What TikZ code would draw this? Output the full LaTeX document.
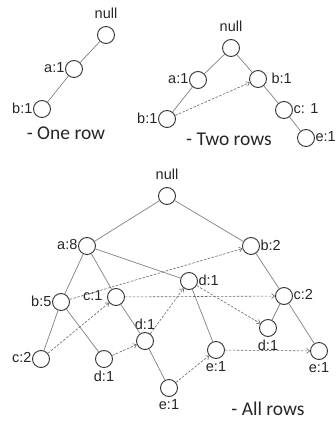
\documentclass[tikz,border=0pt]{standalone}
\usepackage{fontspec}
\setmainfont{Liberation Sans}
\newfontfamily\capfont{Carlito}
\usetikzlibrary{arrows.meta}
\begin{document}
\begin{tikzpicture}[x=1pt,y=-1pt,
 nd/.style={circle,draw=black!80,line width=0.9pt,minimum size=17pt,inner sep=0pt,fill=white},
 lbl/.style={font=\fontsize{14.5}{16}\selectfont,inner sep=0.5pt,text=black!85},
 lleft/.style={lbl,anchor=east,yshift=1pt},
 lright/.style={lbl,anchor=west,yshift=1pt},
 lbelow/.style={lbl,anchor=north,yshift=-2pt},
 labove/.style={lbl,anchor=south,yshift=2pt},
 ltop/.style={lbl,anchor=base,yshift=8pt},
 captext/.style={font=\capfont\fontsize{19.5}{22}\selectfont,text=black!85,inner sep=0pt},
 edge/.style={draw=black!50,line width=0.7pt},
 arr/.style={draw=black!60,dash pattern=on 2.5pt off 1.5pt,line width=0.6pt,-{Straight Barb[length=3pt,width=5pt]}}]
\useasboundingbox (0,0) rectangle (336,422);

% ---------- one row ----------
\node[nd] (n1) at (106,35) {};
\node[nd] (a1) at (74,69) {};
\node[nd] (b1) at (42,109) {};
\node[ltop] (ln1) at (n1.north) {null};
\node[lleft] (la1) at (a1.west) {a:1};
\node[lleft] (lb1) at (b1.west) {b:1};
\draw[edge] (n1) -- (a1);
\draw[edge] (a1) -- (b1);
\node[captext] (c1cap) at (66,133) {- One row};

% ---------- two rows ----------
\node[nd] (n2) at (231,48) {};
\node[nd] (a2) at (198,80) {};
\node[nd] (b2r) at (258,79) {};
\node[nd] (b2l) at (167,119) {};
\node[nd] (c2) at (284,110) {};
\node[nd] (e2) at (306,138) {};
\node[ltop] (ln2) at (n2.north) {null};
\node[lleft] (la2) at (a2.west) {a:1};
\node[lright,xshift=4pt] (lb2r) at (b2r.east) {b:1};
\node[lleft] (lb2l) at (b2l.west) {b:1};
\node[lright] (lc2) at (c2.east) {c: 1};
\node[lright] (le2) at (e2.east) {e:1};
\draw[edge] (n2) -- (a2);
\draw[edge] (n2) -- (b2r);
\draw[edge] (a2) -- (b2l);
\draw[edge] (b2r) -- (c2);
\draw[edge] (c2) -- (e2);
\draw[arr] (b2l) -- (b2r);
\node[captext] (c2cap) at (229,139) {- Two rows};

% ---------- all rows ----------
\node[nd] (n3) at (167,196) {};
\node[nd] (a8) at (87,246) {};
\node[nd] (b2) at (251,246) {};
\node[nd] (b5) at (61,302) {};
\node[nd] (c1) at (116,297) {};
\node[nd] (c2l) at (41,359) {};
\node[nd] (d1a) at (104,359) {};
\node[nd] (d1b) at (145,341) {};
\node[nd] (d1c) at (189,281) {};
\node[nd] (c2r) at (284,296) {};
\node[nd] (d1d) at (268,328) {};
\node[nd] (e1r) at (319,351) {};
\node[nd] (e1m) at (216,350) {};
\node[nd] (e1b) at (169,388) {};

\node[ltop] (ln3) at (n3.north) {null};
\node[lleft] (la8) at (a8.west) {a:8};
\node[lright] (lb2) at (b2.east) {b:2};
\node[lleft] (lb5) at (b5.west) {b:5};
\node[lleft,xshift=-4pt] (lc1) at (c1.west) {c:1};
\node[lleft] (lc2l) at (c2l.west) {c:2};
\node[lbelow] (ld1a) at (d1a.south) {d:1};
\node[labove] (ld1b) at (d1b.north) {d:1};
\node[lright] (ld1c) at (d1c.east) {d:1};
\node[lright] (lc2r) at (c2r.east) {c:2};
\node[lbelow] (ld1d) at (d1d.south) {d:1};
\node[lbelow] (le1r) at (e1r.south) {e:1};
\node[lbelow] (le1m) at (e1m.south) {e:1};
\node[lbelow] (le1b) at (e1b.south) {e:1};

\draw[edge] (n3) -- (a8);
\draw[edge] (n3) -- (b2);
\draw[edge] (a8) -- (b5);
\draw[edge] (a8) -- (c1);
\draw[edge] (a8) -- (d1c);
\draw[edge] (b5) -- (c2l);
\draw[edge] (b5) -- (d1a);
\draw[edge] (c1) -- (d1b);
\draw[edge] (d1b) -- (e1b);
\draw[edge] (d1c) -- (e1m);
\draw[edge] (b2) -- (c2r);
\draw[edge] (c2r) -- (d1d);
\draw[edge] (c2r) -- (e1r);

\draw[arr] (b5) -- (b2);
\draw[arr] (c2l) -- (c1);
\draw[arr] (c1) -- (c2r);
\draw[arr] (d1a) -- (d1b);
\draw[arr] (d1b) -- (d1c);
\draw[arr] (d1c) -- (d1d);
\draw[arr] (e1b) -- (e1m);
\draw[arr] (e1m) -- (e1r);

\node[captext] (c3cap) at (268,409) {- All rows};
\end{tikzpicture}
\end{document}
